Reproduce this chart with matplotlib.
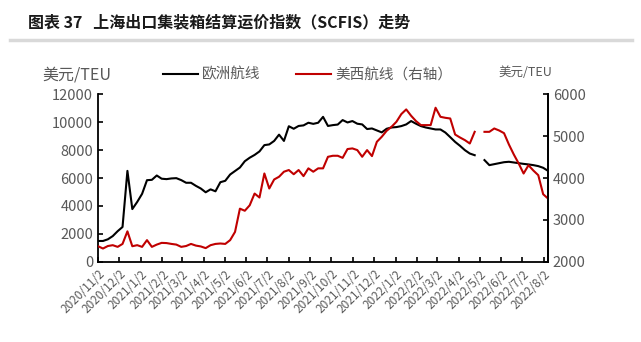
import matplotlib

matplotlib.use("Agg")
import matplotlib.pyplot as plt
import numpy as np
import pandas as pd
from matplotlib.lines import Line2D

plt.rcParams["font.family"] = ["Noto Sans CJK SC", "DejaVu Sans"]

# weekly SCFIS, first publication 2020/11/2, no print on 2022/5/2 (holiday)
start_date = "2020-11-02"
n_weeks = 93

europe = [
    1500, 1500, 1620, 1850, 2200, 2500, 6510, 3780, 4290, 4870,
    5845, 5870, 6180, 5950, 5920, 5970, 5990, 5850, 5660, 5660,
    5440, 5250, 4980, 5190, 5050, 5700, 5800, 6250, 6500, 6750,
    7200, 7450, 7650, 7900, 8350, 8400, 8650, 9100, 8650, 9700,
    9520, 9720, 9760, 9950, 9870, 9950, 10370, 9720, 9780, 9820,
    10140, 9970, 10070, 9880, 9830, 9500, 9540, 9400, 9260, 9520,
    9610, 9640, 9710, 9830, 10070, 9880, 9710, 9610, 9540, 9470,
    9470, 9250, 8920, 8580, 8300, 7990, 7750, 7630, np.nan, 7280,
    6920, 6990, 7060, 7130, 7160, 7110, 7060, 7010, 6970, 6920,
    6850, 6730, 6510,
]

us_west = [
    2375, 2320, 2380, 2400, 2360, 2430, 2730, 2375, 2400, 2360,
    2520, 2360, 2414, 2455, 2450, 2430, 2414, 2360, 2380, 2430,
    2390, 2370, 2330, 2400, 2430, 2440, 2430, 2520, 2716, 3270,
    3220, 3350, 3630, 3535, 4108, 3750, 3965, 4030, 4150, 4190,
    4090, 4190, 4045, 4230, 4150, 4230, 4230, 4505, 4530, 4530,
    4480, 4690, 4705, 4665, 4506, 4665, 4522, 4863, 4982, 5125,
    5220, 5340, 5523, 5634, 5483, 5356, 5260, 5260, 5260, 5674,
    5458, 5434, 5418, 5036, 4965, 4902, 4822, 5100, np.nan, 5100,
    5100, 5180, 5132, 5068, 4798, 4560, 4345, 4107, 4305, 4178,
    4067, 3614, 3510,
]

left_ticks = [0, 2000, 4000, 6000, 8000, 10000, 12000]
right_ticks = [2000, 3000, 4000, 5000, 6000]
# one tick per month, on the 2nd
tick_dates = pd.date_range("2020-11-01", "2022-08-01", freq="MS") + pd.Timedelta(days=1)

title = "图表 37   上海出口集装箱结算运价指数（SCFIS）走势"
unit = "美元/TEU"
europe_label = "欧洲航线"
us_label = "美西航线（右轴）"

GRAY = "#595959"
RED = "#C00000"


def build_frame():
    dates = pd.date_range(start_date, periods=n_weeks, freq="7D")
    return pd.DataFrame({"europe": europe, "us_west": us_west}, index=dates)


def style_axis(ax):
    ax.spines["top"].set_visible(False)
    for side in ("left", "right", "bottom"):
        ax.spines[side].set_linewidth(1.3)
    ax.tick_params(direction="in", length=3.5, width=1.2, colors="black",
                   labelcolor=GRAY, labelsize=10.5)


def main():
    df = build_frame()

    fig = plt.figure(figsize=(6.41, 3.42), dpi=100)
    ax = fig.add_axes([0.153, 0.234, 0.702, 0.491])
    ax2 = ax.twinx()

    ax.plot(df.index, df["europe"], color="black", lw=1.5)
    ax2.plot(df.index, df["us_west"], color=RED, lw=1.5)

    ax.set_xlim(df.index[0], df.index[-1])
    ax.set_ylim(0, 12000)
    ax.set_yticks(left_ticks)
    ax2.set_ylim(2000, 6000)
    ax2.set_yticks(right_ticks)

    ax.set_xticks(tick_dates)
    ax.set_xticklabels([f"{d.year}/{d.month}/{d.day}" for d in tick_dates],
                       rotation=45, ha="right", rotation_mode="anchor")
    style_axis(ax)
    style_axis(ax2)
    ax.tick_params(axis="x", labelsize=8.5, pad=4)
    ax2.spines["left"].set_visible(False)
    ax2.spines["bottom"].set_visible(False)

    fig.text(0.044, 0.935, title, fontsize=11.5, fontweight="bold",
             color="#1a1a1a", va="center")
    fig.add_artist(Line2D([0.016, 0.986], [0.883, 0.883],
                          color="#D9D9D9", lw=2.5))

    fig.text(0.066, 0.782, unit, fontsize=11.5, color=GRAY, va="center")
    fig.text(0.777, 0.788, unit, fontsize=9, color=GRAY, va="center")

    handles = [Line2D([], [], color="black", lw=1.5),
               Line2D([], [], color=RED, lw=1.5)]
    leg = fig.legend(handles, [europe_label, us_label], ncol=2,
                     loc="center", bbox_to_anchor=(0.48, 0.782),
                     frameon=False, fontsize=10.5, handlelength=2.4,
                     handletextpad=0.3, columnspacing=2.4)
    for text in leg.get_texts():
        text.set_color(GRAY)

    fig.savefig("out.png", dpi=100)


if __name__ == "__main__":
    main()
